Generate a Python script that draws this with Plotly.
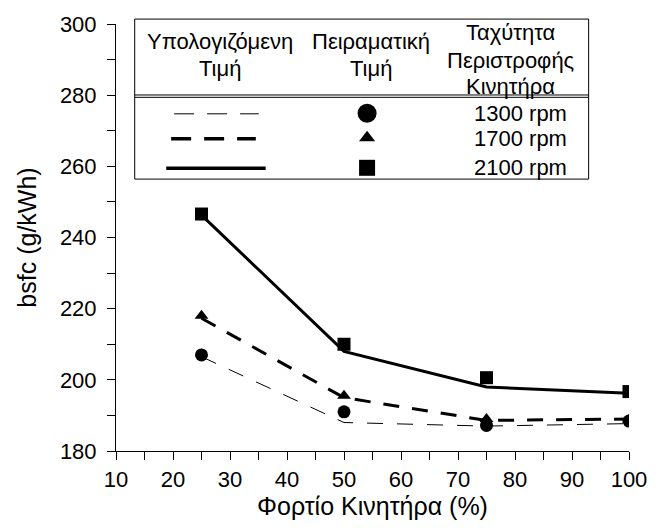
import plotly.graph_objects as go

# ---- data ----
load = [25, 50, 75, 100]
calc_1300 = [206.5, 188.0, 187.0, 187.7]
calc_1700 = [217.3, 195.0, 188.6, 189.0]
calc_2100 = [246.3, 208.0, 198.0, 196.2]
exp_1300 = [207.0, 191.0, 187.2, 188.4]
exp_1700 = [218.0, 195.5, 189.0, 188.8]
exp_2100 = [246.6, 210.0, 200.6, 196.7]
speed_labels = ["1300 rpm", "1700 rpm", "2100 rpm"]
header_calc = ["Υπολογιζόμενη", "Τιμή"]
header_exp = ["Πειραματική", "Τιμή"]
header_speed = ["Ταχύτητα", "Περιστροφής", "Κινητήρα"]
x_title = "Φορτίο Κινητήρα (%)"
y_title = "bsfc (g/kWh)"

W, H = 659, 528
L, R, T, B = 116, 22, 16, 77
PW, PH = W - L - R, H - T - B
FONT = "Liberation Sans, Arial, sans-serif"


def px(x):
    return (x - L) / PW


def py(y):
    return (H - B - y) / PH


fig = go.Figure()

line_styles = [
    dict(color="black", width=1, dash="16px,14px"),
    dict(color="black", width=3, dash="16px,13px"),
    dict(color="black", width=3),
]
for vals, st in zip([calc_1300, calc_1700, calc_2100], line_styles):
    fig.add_trace(go.Scatter(x=load, y=vals, mode="lines", line=st,
                             showlegend=False, hoverinfo="skip"))

marker_styles = [
    dict(symbol="circle", size=13, color="black"),
    dict(symbol="triangle-up", size=12, color="black"),
    dict(symbol="square", size=13, color="black"),
]
for vals, mk in zip([exp_1300, exp_1700, exp_2100], marker_styles):
    fig.add_trace(go.Scatter(x=load, y=vals, mode="markers", marker=mk,
                             showlegend=False, hoverinfo="skip"))

shapes = []
# legend box
shapes.append(dict(type="rect", xref="paper", yref="paper",
                   x0=px(135), x1=px(596), y0=py(174), y1=py(11),
                   line=dict(color="black", width=1), fillcolor="white",
                   layer="below"))
for yy in (88.3, 90.7):
    shapes.append(dict(type="line", xref="paper", yref="paper",
                       x0=px(135), x1=px(596), y0=py(yy), y1=py(yy),
                       line=dict(color="black", width=1)))
# legend line samples
legend_line_styles = [
    dict(color="black", width=1, dash="20px,13px"),
    dict(color="black", width=3.5, dash="20px,13px"),
    dict(color="black", width=3.5),
]
row_y = [107.5, 133.0, 163.0]
line_x = [(175, 261), (172, 258), (167, 268)]
for ry, (a, b), st in zip(row_y, line_x, legend_line_styles):
    shapes.append(dict(type="line", xref="paper", yref="paper",
                       x0=px(a), x1=px(b), y0=py(ry), y1=py(ry),
                       line=st))

fig.update_layout(shapes=shapes)

# legend marker samples
for sym, sz, ry in zip(["circle", "triangle-up", "square"], [19, 14, 16],
                       [107.0, 132.0, 162.5]):
    fig.add_trace(go.Scatter(
        x=[px(371)], y=[py(ry)], xaxis="x2", yaxis="y2", mode="markers",
        opacity=1,
        marker=dict(symbol=sym, size=sz, color="#000000", opacity=1,
                    line=dict(width=0, color="#000000")),
        showlegend=False, hoverinfo="skip"))

ann = []
for txt, ys in zip(header_calc, [33.5, 61.5]):
    ann.append(dict(x=px(222), y=py(ys), text=txt))
for txt, ys in zip(header_exp, [33.5, 61.5]):
    ann.append(dict(x=px(375), y=py(ys), text=txt))
for txt, ys in zip(header_speed, [25.0, 53.0, 80.0]):
    ann.append(dict(x=px(517), y=py(ys), text=txt))
for lbl, ry in zip(speed_labels, [107.5, 133.0, 162.0]):
    ann.append(dict(x=px(527), y=py(ry), text=lbl))
for a in ann:
    a.update(xref="paper", yref="paper", showarrow=False,
             xanchor="center", yanchor="middle",
             font=dict(family=FONT, size=22, color="black"))
fig.update_layout(annotations=ann)

axis_common = dict(showline=True, linecolor="black", linewidth=1,
                   showgrid=False, zeroline=False, ticks="outside",
                   tickcolor="black", ticklen=8, tickwidth=1,
                   tickfont=dict(family=FONT, size=22, color="black"))

fig.update_layout(
    width=W, height=H,
    margin=dict(l=L, r=R, t=T, b=B, pad=0),
    paper_bgcolor="white", plot_bgcolor="white",
    xaxis=dict(range=[10, 100], tick0=10, dtick=10,
               minor=dict(dtick=5, ticks="outside", ticklen=8,
                          tickcolor="black", tickwidth=1),
               ticklabelstandoff=1,
               title=dict(text=x_title, standoff=4,
                          font=dict(family=FONT, size=25, color="black")),
               **axis_common),
    yaxis=dict(range=[180, 300], tick0=180, dtick=20,
               minor=dict(dtick=10, ticks="outside", ticklen=8,
                          tickcolor="black", tickwidth=1),
               ticklabelstandoff=6,
               title=dict(text=y_title, standoff=16,
                          font=dict(family=FONT, size=25, color="black")),
               **axis_common),
    xaxis2=dict(overlaying="x", range=[0, 1], visible=False),
    yaxis2=dict(overlaying="y", range=[0, 1], visible=False),
)

fig.write_html(
    "out.html",
    config={"displayModeBar": False},
    post_script="document.body.style.margin='0';document.body.style.padding='0';"
                "document.body.style.overflow='hidden';",
)
